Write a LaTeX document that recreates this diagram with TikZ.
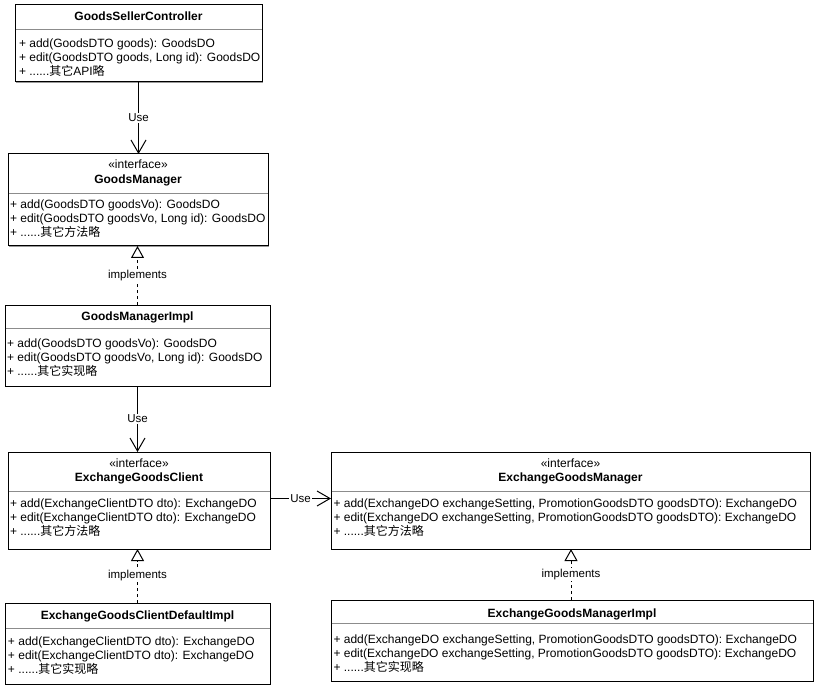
\documentclass[tikz,border=0pt]{standalone}
\usepackage{fontspec}
\setmainfont{Liberation Sans}
\newfontfamily\cjk{Noto Sans CJK SC}
\usetikzlibrary{arrows.meta,shadows,calc}
\begin{document}
\begin{tikzpicture}[x=1pt,y=-1pt,
  every node/.style={font=\fontsize{12}{14}\selectfont, inner sep=0pt, outer sep=0pt},
  umlbox/.style={draw=black, line width=1pt, fill=white, anchor=north west,
    drop shadow={shadow xshift=1.3pt, shadow yshift=-1.3pt, opacity=1, fill=black!40}},
  divline/.style={draw=black!45, line width=0.9pt},
  txt/.style={anchor=base west},
  ttl/.style={anchor=base, font=\fontsize{12}{14}\selectfont\bfseries},
  conn/.style={line width=1pt, draw=black},
  usearr/.style={conn, -{Straight Barb[length=13pt,width=15pt,line width=1pt]}},
  implarr/.style={conn, dash pattern=on 3pt off 3pt, -{Triangle[open,length=12pt,width=13pt,line width=1pt,fill=white]}},
  lbl/.style={fill=white, inner sep=1pt, font=\fontsize{11.5}{13}\selectfont}
]
\useasboundingbox (0,0) rectangle (818,692);

% ---------- GoodsSellerController
\node[umlbox, minimum width=247pt, minimum height=77pt] (c1) at (15,5) {};
\draw[divline] (15.5,29.5) -- (261.5,29.5);
\node[ttl] (c1t) at (138.5,21) {GoodsSellerController};
\node[txt] (c1a) at (19,47.5) {+ add(GoodsDTO goods): GoodsDO};
\node[txt] (c1b) at (19,61.5) {+ edit(GoodsDTO goods, Long id): GoodsDO};
\node[txt] (c1c) at (19,75.5) {+ ......{\cjk 其它}API{\cjk 略}};

% ---------- GoodsManager
\node[umlbox, minimum width=260pt, minimum height=92pt] (c2) at (8,154) {};
\draw[divline] (8.5,193) -- (267.5,193);
\node[anchor=base] (c2s) at (138,169) {«interface»};
\node[ttl] (c2t) at (138,183.5) {GoodsManager};
\node[txt] (c2a) at (10,208.5) {+ add(GoodsDTO goodsVo): GoodsDO};
\node[txt] (c2b) at (10,222.5) {+ edit(GoodsDTO goodsVo, Long id): GoodsDO};
\node[txt] (c2c) at (10,237) {+ ......{\cjk 其它方法略}};

% ---------- GoodsManagerImpl
\node[umlbox, minimum width=265pt, minimum height=81pt] (c3) at (5,305) {};
\draw[divline] (5.5,328) -- (269.5,328);
\node[ttl] (c3t) at (137.5,320.5) {GoodsManagerImpl};
\node[txt] (c3a) at (7,347) {+ add(GoodsDTO goodsVo): GoodsDO};
\node[txt] (c3b) at (7,361) {+ edit(GoodsDTO goodsVo, Long id): GoodsDO};
\node[txt] (c3c) at (7,375.5) {+ ......{\cjk 其它实现略}};

% ---------- ExchangeGoodsClient
\node[umlbox, minimum width=262pt, minimum height=97pt] (c4) at (8,452) {};
\draw[divline] (8.5,491) -- (269.5,491);
\node[anchor=base] (c4s) at (139,467.5) {«interface»};
\node[ttl] (c4t) at (139,481.5) {ExchangeGoodsClient};
\node[txt] (c4a) at (10,507.5) {+ add(ExchangeClientDTO dto): ExchangeDO};
\node[txt] (c4b) at (10,521.5) {+ edit(ExchangeClientDTO dto): ExchangeDO};
\node[txt] (c4c) at (10,535.5) {+ ......{\cjk 其它方法略}};

% ---------- ExchangeGoodsManager
\node[umlbox, minimum width=479pt, minimum height=97pt] (c5) at (331,452) {};
\draw[divline] (331.5,491) -- (809.5,491);
\node[anchor=base] (c5s) at (570.5,467.5) {«interface»};
\node[ttl] (c5t) at (570.5,481.5) {ExchangeGoodsManager};
\node[txt] (c5a) at (333.5,507.5) {+ add(ExchangeDO exchangeSetting, PromotionGoodsDTO goodsDTO): ExchangeDO};
\node[txt] (c5b) at (333.5,521.5) {+ edit(ExchangeDO exchangeSetting, PromotionGoodsDTO goodsDTO): ExchangeDO};
\node[txt] (c5c) at (333.5,535.5) {+ ......{\cjk 其它方法略}};

% ---------- ExchangeGoodsClientDefaultImpl
\node[umlbox, minimum width=265pt, minimum height=81pt] (c6) at (5,603) {};
\draw[divline] (5.5,628) -- (269.5,628);
\node[ttl] (c6t) at (137.5,619) {ExchangeGoodsClientDefaultImpl};
\node[txt] (c6a) at (8,645) {+ add(ExchangeClientDTO dto): ExchangeDO};
\node[txt] (c6b) at (8,659) {+ edit(ExchangeClientDTO dto): ExchangeDO};
\node[txt] (c6c) at (8,673.5) {+ ......{\cjk 其它实现略}};

% ---------- ExchangeGoodsManagerImpl
\node[umlbox, minimum width=482pt, minimum height=81pt] (c7) at (331,600) {};
\draw[divline] (331.5,623.5) -- (812.5,623.5);
\node[ttl] (c7t) at (572,617) {ExchangeGoodsManagerImpl};
\node[txt] (c7a) at (333.5,643) {+ add(ExchangeDO exchangeSetting, PromotionGoodsDTO goodsDTO): ExchangeDO};
\node[txt] (c7b) at (333.5,657.5) {+ edit(ExchangeDO exchangeSetting, PromotionGoodsDTO goodsDTO): ExchangeDO};
\node[txt] (c7c) at (333.5,671.5) {+ ......{\cjk 其它实现略}};

% ---------- connectors
\draw[usearr] (c1.south) -- node[lbl]{Use} (c1.south |- c2.north);
\draw[implarr] (c3.north) -- node[lbl]{implements} (c3.north |- c2.south);
\draw[usearr] (c3.south) -- node[lbl]{Use} (c3.south |- c4.north);
\coordinate (h1) at (c4.east |- 0,498.5);
\draw[usearr] (h1) -- node[lbl]{Use} (h1 -| c5.west);
\draw[implarr] (c6.north) -- node[lbl]{implements} (c6.north |- c4.south);
\coordinate (v7) at (571,600);
\draw[implarr] (v7) -- node[lbl]{implements} (v7 |- c5.south);
\end{tikzpicture}
\end{document}
